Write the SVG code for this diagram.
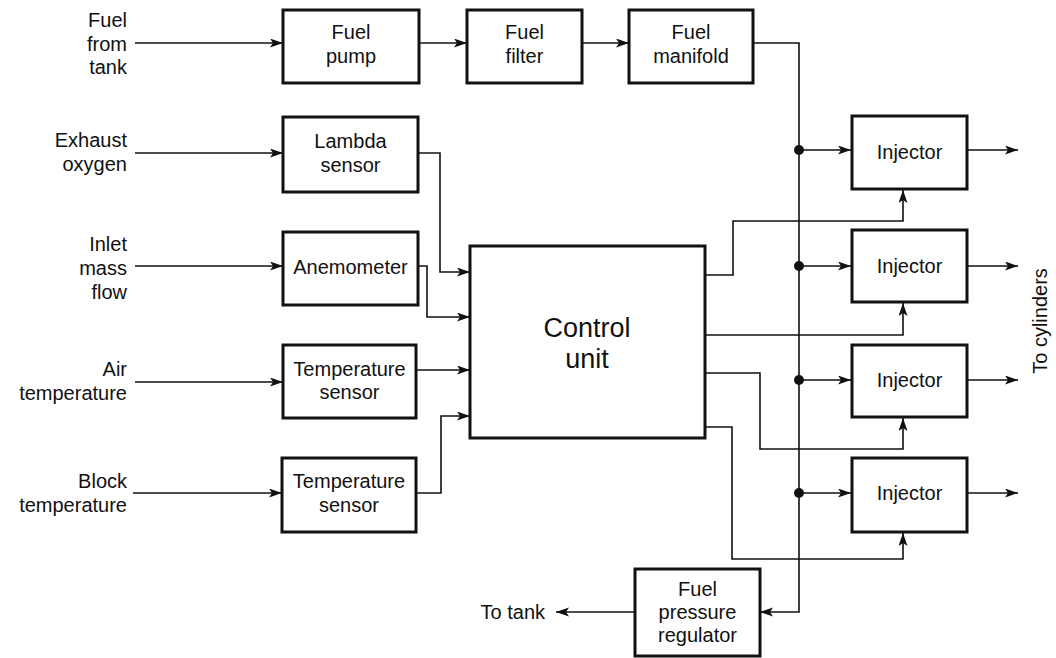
<svg xmlns="http://www.w3.org/2000/svg" width="1056" height="658" viewBox="0 0 1056 658">
<style>
.box{fill:#fff;stroke:#111;stroke-width:3}
.ln{fill:none;stroke:#111;stroke-width:1.6}
.t{font-family:"Liberation Sans",Arial,sans-serif;font-size:20px;fill:#111}
.m{text-anchor:middle}
.r{text-anchor:end}
.big{font-size:27px}
</style>
<defs>
<marker id="ah" markerUnits="userSpaceOnUse" markerWidth="14" markerHeight="10" refX="13" refY="4.5" orient="auto">
<path d="M0,0 L13,4.5 L0,9 L3,4.5 z" fill="#111"/>
</marker>
</defs>
<rect width="1056" height="658" fill="#fff"/>

<g id="labels-left">
<text class="t r" x="127" y="27">Fuel</text>
<text class="t r" x="127" y="51">from</text>
<text class="t r" x="127" y="74">tank</text>
<text class="t r" x="127" y="147">Exhaust</text>
<text class="t r" x="127" y="171">oxygen</text>
<text class="t r" x="127" y="251">Inlet</text>
<text class="t r" x="127" y="275">mass</text>
<text class="t r" x="127" y="299">flow</text>
<text class="t r" x="127" y="376">Air</text>
<text class="t r" x="127" y="400">temperature</text>
<text class="t r" x="127" y="488">Block</text>
<text class="t r" x="127" y="512">temperature</text>
<text class="t r" x="545" y="619">To tank</text>
<text class="t m" transform="translate(1047,321) rotate(-90)">To cylinders</text>
</g>

<g id="connectors">
<path class="ln" d="M135,43 H283" marker-end="url(#ah)"/>
<path class="ln" d="M419,43 H467" marker-end="url(#ah)"/>
<path class="ln" d="M582,43 H629" marker-end="url(#ah)"/>
<path class="ln" d="M753,43 H799 V612 H760" marker-end="url(#ah)"/>
<path class="ln" d="M135,153 H283" marker-end="url(#ah)"/>
<path class="ln" d="M418,153 H440 V272 H470" marker-end="url(#ah)"/>
<path class="ln" d="M135,266 H283" marker-end="url(#ah)"/>
<path class="ln" d="M418,266 H427 V317 H470" marker-end="url(#ah)"/>
<path class="ln" d="M135,382 H283" marker-end="url(#ah)"/>
<path class="ln" d="M416,370 H470" marker-end="url(#ah)"/>
<path class="ln" d="M133,493 H282" marker-end="url(#ah)"/>
<path class="ln" d="M416,493 H441 V416 H470" marker-end="url(#ah)"/>
<path class="ln" d="M799,150 H851" marker-end="url(#ah)"/>
<path class="ln" d="M799,266 H851" marker-end="url(#ah)"/>
<path class="ln" d="M799,380 H851" marker-end="url(#ah)"/>
<path class="ln" d="M799,493 H851" marker-end="url(#ah)"/>
<circle cx="799" cy="150" r="5" fill="#111"/>
<circle cx="799" cy="266" r="5" fill="#111"/>
<circle cx="799" cy="380" r="5" fill="#111"/>
<circle cx="799" cy="493" r="5" fill="#111"/>
<path class="ln" d="M967,150 H1018" marker-end="url(#ah)"/>
<path class="ln" d="M967,266 H1018" marker-end="url(#ah)"/>
<path class="ln" d="M967,380 H1018" marker-end="url(#ah)"/>
<path class="ln" d="M967,493 H1018" marker-end="url(#ah)"/>
<path class="ln" d="M705,275 H733 V221 H903 V190" marker-end="url(#ah)"/>
<path class="ln" d="M705,335 H903 V303" marker-end="url(#ah)"/>
<path class="ln" d="M705,373 H760 V449 H903 V418" marker-end="url(#ah)"/>
<path class="ln" d="M705,427 H732 V559 H903 V533" marker-end="url(#ah)"/>
<path class="ln" d="M635,612 H556" marker-end="url(#ah)"/>
</g>

<g id="fuel-pump"><rect class="box" x="283" y="10" width="136" height="73"/>
<text class="t m" x="351" y="39">Fuel</text><text class="t m" x="351" y="63">pump</text></g>
<g id="fuel-filter"><rect class="box" x="467" y="10" width="115" height="73"/>
<text class="t m" x="524.5" y="39">Fuel</text><text class="t m" x="524.5" y="63">filter</text></g>
<g id="fuel-manifold"><rect class="box" x="629" y="10" width="124" height="73"/>
<text class="t m" x="691" y="39">Fuel</text><text class="t m" x="691" y="63">manifold</text></g>
<g id="lambda-sensor"><rect class="box" x="283" y="117" width="135" height="75"/>
<text class="t m" x="350.5" y="148">Lambda</text><text class="t m" x="350.5" y="172">sensor</text></g>
<g id="anemometer"><rect class="box" x="283" y="232" width="135" height="73"/>
<text class="t m" x="350.5" y="274">Anemometer</text></g>
<g id="temp-sensor-air"><rect class="box" x="283" y="345" width="133" height="73"/>
<text class="t m" x="349.5" y="376">Temperature</text><text class="t m" x="349.5" y="399">sensor</text></g>
<g id="temp-sensor-block"><rect class="box" x="282" y="458" width="134" height="74"/>
<text class="t m" x="349" y="488">Temperature</text><text class="t m" x="349" y="512">sensor</text></g>
<g id="control-unit"><rect class="box" x="470" y="246" width="235" height="192"/>
<text class="t m big" x="587" y="337">Control</text><text class="t m big" x="587" y="368">unit</text></g>
<g id="injector-1"><rect class="box" x="852" y="116" width="115" height="73"/>
<text class="t m" x="909.5" y="159">Injector</text></g>
<g id="injector-2"><rect class="box" x="852" y="230" width="115" height="72"/>
<text class="t m" x="909.5" y="273">Injector</text></g>
<g id="injector-3"><rect class="box" x="852" y="345" width="115" height="72"/>
<text class="t m" x="909.5" y="387">Injector</text></g>
<g id="injector-4"><rect class="box" x="852" y="458" width="115" height="74"/>
<text class="t m" x="909.5" y="500">Injector</text></g>
<g id="fuel-pressure-regulator"><rect class="box" x="635" y="569" width="125" height="87"/>
<text class="t m" x="697.5" y="596">Fuel</text><text class="t m" x="697.5" y="619">pressure</text><text class="t m" x="697.5" y="642">regulator</text></g>
</svg>
